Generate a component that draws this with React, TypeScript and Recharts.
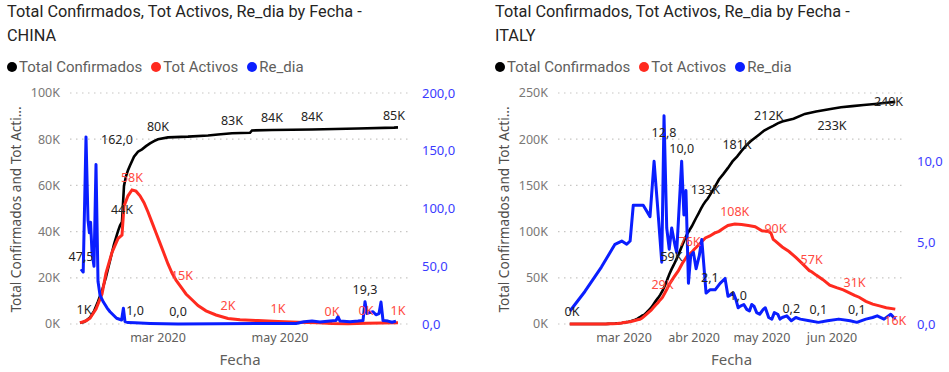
import React from 'react';
import { LineChart, Line, XAxis, YAxis, CartesianGrid } from 'recharts';

// x values are days since 1 Jan 2020 (1 Mar = 60, 1 Apr = 91, 1 May = 121, 1 Jun = 152)
const monthLabels: Record<number, string> = { 60: 'mar 2020', 91: 'abr 2020', 121: 'may 2020', 152: 'jun 2020' };
const chinaMonthTicks = [60, 121];
const italyMonthTicks = [60, 91, 121, 152];

const chinaLeftTicks = [0, 20, 40, 60, 80, 100];
const chinaRightTicks = [0, 50, 100, 150, 200];
const italyLeftTicks = [0, 50, 100, 150, 200, 250];
const italyRightTicks = [0, 5, 10];

const seriesNames = ['Total Confirmados', 'Tot Activos', 'Re_dia'];

// ---- CHINA (values in thousands for totals / actives) ----
const chinaTotalK: [number, number][] = [
  [21, 0.55], [23, 0.9], [24, 1.4], [26, 2.8], [28, 5.5], [30, 9.8], [32, 14.4], [34, 20.4], [36, 27.4],
  [38, 34.5], [40, 40.2], [41, 42.6], [42, 44.2], [43, 59.9], [44, 63.9], [45, 66.6], [46, 68.6], [48, 72.4],
  [50, 74.6], [52, 75.6], [54, 77.0], [56, 78.2], [58, 79.2], [60, 80.0], [65, 80.8], [75, 81.1], [85, 81.6],
  [90, 82.0], [97, 82.6], [106, 82.8], [107, 83.8], [117, 84.0], [137, 84.2], [160, 84.6], [178, 85.0], [180, 85.1],
];
const chinaActiveK: [number, number][] = [
  [21, 0.5], [24, 1.4], [26, 2.5], [29, 6.5], [32, 13], [34, 22], [37, 31], [40, 37], [42, 38.5], [43, 51],
  [45, 55.5], [47, 58], [49, 57.5], [51, 55.5], [53, 52.5], [55, 48.5], [57, 44], [59, 39.5], [61, 35],
  [63, 30.5], [65, 26], [67, 22], [69, 19], [72, 15.4], [74, 13], [77, 10.5], [80, 8], [84, 5.7], [89, 3.9],
  [95, 2.4], [101, 1.8], [110, 1.5], [120, 1.1], [130, 0.8], [140, 0.5], [147, 0.2], [155, 0.15], [164, 0.3],
  [172, 0.4], [180, 0.52],
];
const chinaReDia: [number, number][] = [
  [21.5, 47.5], [22.6, 45], [24, 162], [25, 90], [25.7, 79], [26.3, 88], [27, 62], [28, 50], [29, 138],
  [30, 37], [31, 25], [32.7, 19], [34.5, 14], [36, 10.6], [39.3, 5], [41.8, 3.5], [42.7, 13.6], [43.5, 2],
  [45, 1.2], [48.5, 1.0], [56, 0.5], [70, 0.02], [90, 0.3], [110, 0.4], [129, 0.5], [133, 2], [137, 2.5],
  [141, 1.8], [146, 2.5], [149, 3], [150, 6.3], [151, 2.5], [156, 2], [160, 2.5], [162.5, 3], [163.5, 19.3],
  [164.5, 9], [166, 10], [167.5, 10.6], [169, 8], [170.5, 9], [171.5, 19], [172.5, 3], [175, 2.5], [177, 1.5],
  [179, 2.5],
];

// ---- ITALY ----
const italyTotalK: [number, number][] = [
  [36, 0.003], [37, 0.003], [50, 0.003], [51, 0.02], [52, 0.08], [53, 0.15], [54, 0.23], [55, 0.32], [56, 0.45],
  [57, 0.66], [58, 0.89], [59, 1.13], [60, 1.69], [61, 2.04], [62, 2.5], [63, 3.09], [64, 3.86], [65, 4.64],
  [66, 5.88], [67, 7.38], [68, 9.17], [69, 10.15], [70, 12.46], [71, 15.11], [72, 17.66], [73, 21.16],
  [74, 24.75], [75, 27.98], [76, 31.51], [77, 35.71], [78, 41.04], [79, 47.02], [80, 53.58], [81, 59.14],
  [82, 63.93], [83, 69.18], [84, 74.39], [85, 80.59], [86, 86.5], [87, 92.47], [88, 97.69], [89, 101.74],
  [90, 105.79], [91, 110.57], [92, 115.24], [93, 119.83], [94, 124.63], [95, 128.95], [96, 132.55],
  [97, 135.59], [98, 139.42], [99, 143.63], [100, 147.58], [102, 156.36], [104, 162.49], [106, 168.94],
  [108, 175.93], [110, 181.23], [112, 187.33], [114, 192.99], [116, 197.68], [118, 201.51], [120, 205.46],
  [122, 209.33], [124, 211.94], [126, 214.46], [128, 217.19], [130, 219.07], [135, 222.1], [140, 227.36],
  [145, 229.9], [152, 233.0], [156, 234.5], [161, 235.76], [166, 237.0], [171, 238.16], [177, 239.71],
  [180, 240.44],
];
const italyActiveK: [number, number][] = [
  [36, 0.003], [52, 0.003], [53, 0.15], [55, 0.31], [57, 0.53], [59, 1.05], [60, 1.58], [62, 2.26], [64, 3.3],
  [66, 4.64], [67, 5.06], [68, 6.39], [69, 8.51], [70, 10.59], [71, 12.84], [72, 14.96], [73, 17.75],
  [74, 20.6], [75, 23.07], [76, 26.06], [77, 28.71], [78, 33.19], [79, 37.86], [80, 42.68], [81, 46.64],
  [82, 50.42], [83, 54.03], [84, 57.52], [85, 62.01], [86, 66.41], [87, 70.07], [88, 73.88], [89, 75.53],
  [90, 77.64], [91, 80.57], [92, 83.05], [94, 88.27], [96, 93.19], [98, 95.26], [100, 98.27], [102, 100.27],
  [104, 103.62], [106, 106.61], [108, 107.77], [109, 108.26], [112, 107.7], [115, 106.53], [118, 105.21],
  [121, 100.94], [124, 99.98], [125, 98.47], [126, 91.53], [127, 89.62], [130, 83.32], [133, 78.46],
  [136, 72.07], [139, 65.13], [142, 57.75], [143, 56.59], [145, 52.94], [148, 47.99], [151, 42.08],
  [154, 39.3], [157, 36.98], [162, 31.1], [164, 28.99], [167, 24.57], [170, 21.54], [173, 19.57],
  [176, 17.64], [180, 16.1],
];
const italyReDia: [number, number][] = [
  [36.1, 0.8], [42.7, 2.0], [50, 3.5], [56, 4.9], [59, 5.1], [61.2, 4.9], [62.7, 5.1], [64.1, 7.3], [68.5, 7.3],
  [71.5, 6.6], [73.3, 10.0], [74.7, 7.5], [76.7, 3.8], [77.7, 12.8], [78.9, 5.9], [80, 4.6], [81.1, 5.9],
  [82.6, 4.8], [83.3, 4.4], [85.5, 10.0], [86.5, 6.7], [87.4, 8.2], [88.5, 2.5], [89.5, 4.2], [90.7, 4.4],
  [91.9, 3.4], [93.3, 4.2], [94.4, 5.2], [96.3, 1.9], [98, 2.1], [100.3, 2.1], [102.5, 2.5], [104.7, 2.8],
  [106, 1.7], [108.4, 1.9], [109.5, 1.5], [110.5, 1.0], [111.5, 1.1], [113, 1.2], [114.3, 0.9], [115.5, 0.8],
  [116.5, 1.2], [117.5, 1.1], [118.7, 0.7], [120, 0.6], [121.6, 0.9], [122.5, 1.0], [124, 0.4], [125.4, 0.3],
  [126.5, 0.7], [128, 0.6], [129, 0.3], [130, 0.4], [132, 0.5], [134, 0.2], [136, 0.4], [138, 0.3], [142, 0.2],
  [146, 0.1], [150, 0.2], [155, 0.3], [160, 0.2], [163, 0.1], [167, 0.3], [170, 0.4], [172, 0.5], [175, 0.3],
  [178, 0.6], [180, 0.3],
];

// data labels shown (x value of the labelled point, placement)
type Place = 'up' | 'down' | 'below' | 'mid' | 'right';
const chinaTotalLabels: [number, Place][] = [[23, 'up'], [42, 'up'], [60, 'up'], [97, 'up'], [117, 'up'], [137, 'up'], [178, 'up']];
const chinaActiveLabels: [number, Place][] = [[47, 'up'], [72, 'up'], [95, 'up'], [120, 'up'], [147, 'up'], [164, 'up'], [180, 'up']];
const chinaReLabels: [number, Place][] = [[21.5, 'up'], [24, 'right'], [48.5, 'up'], [70, 'up'], [163.5, 'up']];
const italyTotalLabels: [number, Place][] = [[37, 'up'], [81, 'up'], [96, 'up'], [110, 'up'], [124, 'up'], [152, 'down'], [177, 'mid']];
const italyActiveLabels: [number, Place][] = [[77, 'up'], [89, 'up'], [109, 'up'], [127, 'up'], [143, 'up'], [162, 'up'], [180, 'below']];
const italyReLabels: [number, Place][] = [[77.7, 'down'], [85.5, 'up'], [98, 'up'], [110.5, 'up'], [134, 'up'], [146, 'up'], [163, 'up']];

const COLORS = { total: '#000000', active: '#FF2A1F', re: '#0A1EFF' };
const LABEL_COLORS = { total: '#252423', active: '#FF4A42', re: '#252423' };
const UI_FONT = '"Noto Sans", "Open Sans", sans-serif';
const TITLE_FONT = 'Roboto, "Noto Sans", sans-serif';

const toRows = (pts: [number, number][]) => pts.map(([d, v]) => ({ d, v }));
const fmtK = (v: number) => `${Math.round(v)}K`;
const fmtDec = (v: number) => v.toFixed(1).replace('.', ',');

function labelDot(labels: [number, Place][], fmt: (v: number) => string, color: string) {
  return (props: any) => {
    const { cx, cy, payload, index } = props;
    const key = `lb-${index}`;
    const spec = labels.find((l) => Math.abs(l[0] - payload.d) < 1e-6);
    if (!spec || cx == null || cy == null) return <g key={key} />;
    const place = spec[1];
    let x = cx;
    let y = cy - 8;
    if (place === 'down') y = cy + 21;
    if (place === 'below') y = cy + 16;
    if (place === 'mid') y = cy + 3;
    if (place === 'right') { x = cx + 31; y = cy + 7; }
    return (
      <text key={key} x={x} y={y} textAnchor="middle" fill={color} fontSize={12.5} fontFamily={UI_FONT}>
        {fmt(payload.v)}
      </text>
    );
  };
}

interface PanelProps {
  country: string;
  left: number;
  width: number;
  xDomain: [number, number];
  xTicks: number[];
  leftDomain: [number, number];
  leftTicks: number[];
  rightDomain: [number, number];
  rightTicks: number[];
  leftAxisWidth: number;
  rightAxisWidth: number;
  total: [number, number][];
  active: [number, number][];
  re: [number, number][];
  totalLabels: [number, Place][];
  activeLabels: [number, Place][];
  reLabels: [number, Place][];
}

function Panel(p: PanelProps) {
  const totalRows = toRows(p.total);
  const activeRows = toRows(p.active);
  const reRows = toRows(p.re);
  return (
    <div style={{ position: 'absolute', left: p.left, top: 0, width: p.width, height: 372 }}>
      <div
        style={{
          position: 'absolute', left: 7, top: 0, fontFamily: TITLE_FONT, fontSize: 16.3, lineHeight: '24px',
          color: '#252423', whiteSpace: 'nowrap',
        }}
      >
        Total Confirmados, Tot Activos, Re_dia by Fecha -<br />
        {p.country}
      </div>
      <div
        style={{
          position: 'absolute', left: 7, top: 58, height: 18, display: 'flex', alignItems: 'center',
          fontFamily: TITLE_FONT, fontSize: 15, color: '#605E5C', whiteSpace: 'nowrap',
        }}
      >
        {seriesNames.map((n, i) => (
          <span key={n} style={{ display: 'flex', alignItems: 'center', marginRight: 9 }}>
            <span
              style={{
                width: 10, height: 10, borderRadius: 5, marginRight: 2,
                background: [COLORS.total, COLORS.active, COLORS.re][i],
              }}
            />
            {n}
          </span>
        ))}
      </div>
      <div style={{ position: 'absolute', left: 0, top: 80 }}>
        <LineChart width={p.width} height={292} margin={{ top: 13, right: 0, bottom: 0, left: 0 }} style={{ overflow: 'visible' }}>
          <CartesianGrid yAxisId="left" vertical={false} stroke="#C8C6C4" strokeDasharray="1.5 4.5" strokeWidth={1.2} />
          <XAxis
            dataKey="d" type="number" domain={p.xDomain} ticks={p.xTicks}
            tickFormatter={(v: number) => monthLabels[v] ?? ''} axisLine={false} tickLine={false}
            height={48} tickMargin={3} interval={0}
            tick={{ fill: '#605E5C', fontSize: 12.5, fontFamily: UI_FONT }}
            label={(lp: any) => {
              const vb = lp.viewBox || {};
              return (
                <text x={vb.x + vb.width / 2} y={vb.y + 41} textAnchor="middle" fill="#605E5C" fontSize={15} fontFamily={UI_FONT}>
                  Fecha
                </text>
              );
            }}
          />
          <YAxis
            yAxisId="left" orientation="left" domain={p.leftDomain} ticks={p.leftTicks}
            tickFormatter={(v: number) => `${v}K`} axisLine={false} tickLine={false} width={p.leftAxisWidth}
            tickMargin={4} tick={{ fill: '#7A7876', fontSize: 12.5, fontFamily: UI_FONT }}
            label={(lp: any) => {
              const vb = lp.viewBox || {};
              const cx = vb.x + 15;
              const cy = vb.y + vb.height / 2 + 1;
              return (
                <text x={cx} y={cy} transform={`rotate(-90 ${cx} ${cy})`} textAnchor="middle" dominantBaseline="central"
                  fill="#504E4C" fontSize={13.6} fontFamily={UI_FONT}>
                  Total Confirmados and Tot Acti...
                </text>
              );
            }}
          />
          <YAxis
            yAxisId="right" orientation="right" domain={p.rightDomain} ticks={p.rightTicks}
            tickFormatter={fmtDec} axisLine={false} tickLine={false} width={p.rightAxisWidth} tickMargin={6}
            tick={{ fill: '#3B3BFF', fontSize: 13, fontFamily: UI_FONT }}
          />
          <Line yAxisId="left" data={totalRows} dataKey="v" stroke={COLORS.total} strokeWidth={2.6} dot={false}
            isAnimationActive={false} type="linear" />
          <Line yAxisId="left" data={activeRows} dataKey="v" stroke={COLORS.active} strokeWidth={3} dot={false}
            isAnimationActive={false} type="linear" />
          <Line yAxisId="right" data={reRows} dataKey="v" stroke={COLORS.re} strokeWidth={3} dot={false}
            isAnimationActive={false} type="linear" strokeLinejoin="round" />
          <Line yAxisId="left" data={totalRows} dataKey="v" stroke="none" isAnimationActive={false}
            dot={labelDot(p.totalLabels, fmtK, LABEL_COLORS.total)} activeDot={false} legendType="none" />
          <Line yAxisId="left" data={activeRows} dataKey="v" stroke="none" isAnimationActive={false}
            dot={labelDot(p.activeLabels, fmtK, LABEL_COLORS.active)} activeDot={false} legendType="none" />
          <Line yAxisId="right" data={reRows} dataKey="v" stroke="none" isAnimationActive={false}
            dot={labelDot(p.reLabels, fmtDec, LABEL_COLORS.re)} activeDot={false} legendType="none" />
        </LineChart>
      </div>
    </div>
  );
}

export default function App() {
  return (
    <div style={{ position: 'absolute', left: 0, top: 0, width: 949, height: 372, background: '#fff', overflow: 'hidden' }}>
      <Panel
        country="CHINA" left={0} width={475} xDomain={[16, 186]} xTicks={chinaMonthTicks}
        leftDomain={[0, 100]} leftTicks={chinaLeftTicks} rightDomain={[0, 200]} rightTicks={chinaRightTicks}
        leftAxisWidth={70} rightAxisWidth={65}
        total={chinaTotalK} active={chinaActiveK} re={chinaReDia}
        totalLabels={chinaTotalLabels} activeLabels={chinaActiveLabels} reLabels={chinaReLabels}
      />
      <Panel
        country="ITALY" left={488} width={461} xDomain={[30.8, 184.3]} xTicks={italyMonthTicks}
        leftDomain={[0, 250]} leftTicks={italyLeftTicks} rightDomain={[0, 14.2]} rightTicks={italyRightTicks}
        leftAxisWidth={70} rightAxisWidth={44}
        total={italyTotalK} active={italyActiveK} re={italyReDia}
        totalLabels={italyTotalLabels} activeLabels={italyActiveLabels} reLabels={italyReLabels}
      />
    </div>
  );
}
